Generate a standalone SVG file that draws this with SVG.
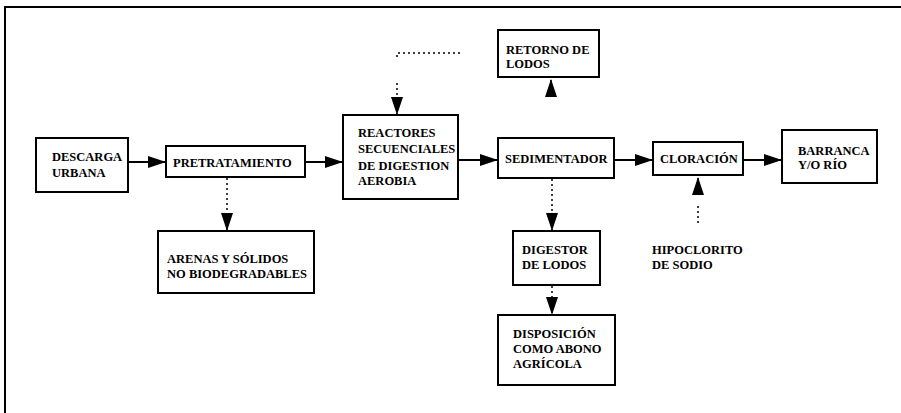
<svg xmlns="http://www.w3.org/2000/svg" width="901" height="413" viewBox="0 0 901 413">
<style>
.box{fill:#fff;stroke:#000;stroke-width:2}
.t{font-family:"Liberation Serif","Times New Roman",serif;font-weight:bold;font-size:12.5px;fill:#000}
.solid{fill:none;stroke:#000;stroke-width:2;marker-end:url(#ah)}
.dot{fill:none;stroke:#000;stroke-width:1.5;stroke-dasharray:2 3;marker-end:url(#ah)}
</style>
<defs>
<marker id="ah" viewBox="0 0 18 12" refX="18" refY="6" markerWidth="18" markerHeight="12" markerUnits="userSpaceOnUse" orient="auto">
<path d="M0,0 L18,6 L0,12 z" fill="#000"/>
</marker>
</defs>
<rect width="901" height="413" fill="#fff"/>
<path d="M5,413 V7 H901" fill="none" stroke="#000" stroke-width="2"/>

<g id="connectors">
<path class="solid" d="M128,162 H166"/>
<path class="solid" d="M305,162 H343"/>
<path class="solid" d="M458,160 H498"/>
<path class="solid" d="M614,160 H653"/>
<path class="solid" d="M743,160 H782"/>
<path class="dot" d="M227,178 V231"/>
<path class="dot" d="M460,53 H397 V60 M397,83 V115"/>
<path class="dot" d="M551,97 V79" stroke-dasharray="none"/>
<path class="dot" d="M552,179 V231"/>
<path class="dot" d="M552,286 V315"/>
<path class="dot" d="M698,223 V205 M698,195 V177"/>
</g>

<g id="descarga">
<rect class="box" x="36" y="138" width="92" height="54"/>
<text class="t" x="52" y="161">DESCARGA</text>
<text class="t" x="52" y="177">URBANA</text>
</g>
<g id="pretratamiento">
<rect class="box" x="166" y="146" width="139" height="31"/>
<text class="t" x="173" y="167">PRETRATAMIENTO</text>
</g>
<g id="reactores">
<rect class="box" x="343" y="115" width="115" height="84"/>
<text class="t" x="358" y="137">REACTORES</text>
<text class="t" x="358" y="153">SECUENCIALES</text>
<text class="t" x="358" y="170">DE  DIGESTION</text>
<text class="t" x="358" y="185">AEROBIA</text>
</g>
<g id="retorno">
<rect class="box" x="498" y="30" width="101" height="47"/>
<text class="t" x="506" y="54" font-size="11.5">RETORNO DE</text>
<text class="t" x="506" y="68" font-size="11.5">LODOS</text>
</g>
<g id="sedimentador">
<rect class="box" x="498" y="138" width="116" height="40"/>
<text class="t" x="505" y="163">SEDIMENTADOR</text>
</g>
<g id="cloracion">
<rect class="box" x="653" y="142" width="90" height="33"/>
<text class="t" x="660" y="163">CLORACIÓN</text>
</g>
<g id="barranca">
<rect class="box" x="782" y="130" width="95" height="53"/>
<text class="t" x="798" y="155">BARRANCA</text>
<text class="t" x="798" y="169">Y/O RÍO</text>
</g>
<g id="arenas">
<rect class="box" x="158" y="231" width="156" height="62"/>
<text class="t" x="167" y="263">ARENAS Y SÓLIDOS</text>
<text class="t" x="167" y="278">NO BIODEGRADABLES</text>
</g>
<g id="digestor">
<rect class="box" x="513" y="231" width="87" height="54"/>
<text class="t" x="522" y="254">DIGESTOR</text>
<text class="t" x="522" y="269">DE LODOS</text>
</g>
<g id="disposicion">
<rect class="box" x="498" y="315" width="117" height="70"/>
<text class="t" x="513" y="338">DISPOSICIÓN</text>
<text class="t" x="513" y="353">COMO ABONO</text>
<text class="t" x="513" y="368">AGRÍCOLA</text>
</g>
<g id="hipoclorito">
<text class="t" x="652" y="254">HIPOCLORITO</text>
<text class="t" x="652" y="269">DE SODIO</text>
</g>
</svg>
